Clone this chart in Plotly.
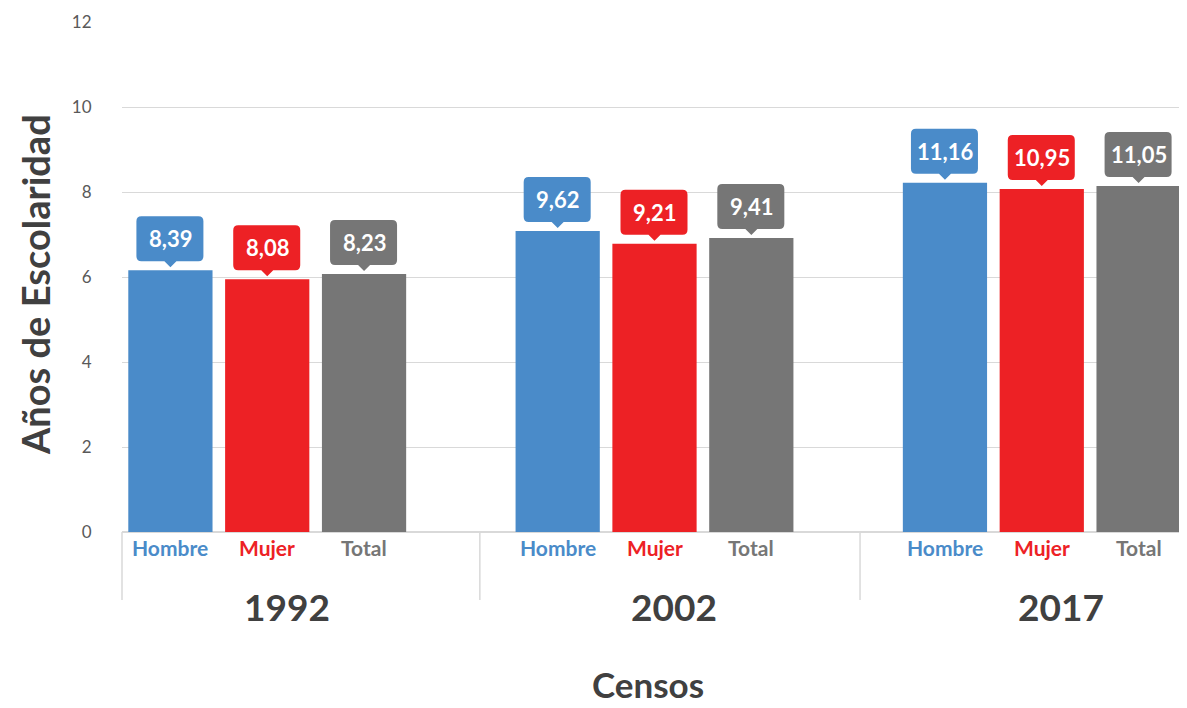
import plotly.graph_objects as go

# Data
censos = ["1992", "2002", "2017"]
series = ["Hombre", "Mujer", "Total"]
# bar heights as drawn (axis units)
hombre_bar = [6.16, 7.08, 8.22]
mujer_bar = [5.95, 6.78, 8.07]
total_bar = [6.07, 6.92, 8.14]
# data label texts shown in the callouts
hombre_lbl = ["8,39", "9,62", "11,16"]
mujer_lbl = ["8,08", "9,21", "10,95"]
total_lbl = ["8,23", "9,41", "11,05"]

colors = {"Hombre": "#4a8bc9", "Mujer": "#ed2125", "Total": "#767676"}
FONT = "Lato"
DARK = "#404040"

bars = {"Hombre": hombre_bar, "Mujer": mujer_bar, "Total": total_bar}
labels = {"Hombre": hombre_lbl, "Mujer": mujer_lbl, "Total": total_lbl}

# each census group takes 3 slots plus one empty slot as a gap
def pos(g, i):
    return g * 4 + i

fig = go.Figure()
shapes = []
annotations = []

for i, s in enumerate(series):
    xs = [pos(g, i) for g in range(len(censos))]
    fig.add_trace(go.Bar(
        x=xs, y=bars[s], name=s, width=0.87,
        marker=dict(color=colors[s], line=dict(width=0)),
        hoverinfo="skip",
    ))
    for g, (x, y) in enumerate(zip(xs, bars[s])):
        # rounded callout box with a small pointer (pixel sized, anchored at bar top)
        L, R, b, t, r = -34, 33, 9, 54, 5
        path = (f"M {L+r},{b} L -6,{b} L 0,3 L 6,{b} L {R-r},{b} "
                f"Q {R},{b} {R},{b+r} L {R},{t-r} Q {R},{t} {R-r},{t} "
                f"L {L+r},{t} Q {L},{t} {L},{t-r} L {L},{b+r} Q {L},{b} {L+r},{b} Z")
        shapes.append(dict(type="path", xref="x", yref="y",
                           xsizemode="pixel", ysizemode="pixel",
                           xanchor=x, yanchor=y, path=path,
                           fillcolor=colors[s], line=dict(width=0), layer="above"))
        annotations.append(dict(x=x, y=y, xref="x", yref="y", yshift=31.5,
                                text=f"<b>{labels[s][g]}</b>", showarrow=False,
                                xanchor="center", yanchor="middle",
                                font=dict(family=FONT, size=22, color="white")))
        # category label under each bar
        annotations.append(dict(x=x, y=0, xref="x", yref="paper", yshift=-15,
                                text=f"<b>{s}</b>", showarrow=False,
                                xanchor="center", yanchor="middle",
                                font=dict(family=FONT, size=21, color=colors[s])))

# census year labels
for g, c in enumerate(censos):
    annotations.append(dict(x=pos(g, 1) + 0.2, y=0, xref="x", yref="paper", yshift=-74,
                            text=f"<b>{c}</b>", showarrow=False,
                            xanchor="center", yanchor="middle",
                            font=dict(family=FONT, size=37, color=DARK)))

# group separators below the axis
for xp in [0.0, 0.336, 0.693]:
    shapes.append(dict(type="line", xref="paper", yref="paper",
                       x0=xp, x1=xp, y0=0, y1=-68 / 510,
                       line=dict(color="#d9d9d9", width=1.5)))

# axis titles
annotations.append(dict(x=0.5, y=0, xref="paper", yref="paper", xshift=-7, yshift=-152,
                        text="<b>Censos</b>", showarrow=False,
                        xanchor="center", yanchor="middle",
                        font=dict(family=FONT, size=35, color=DARK)))
annotations.append(dict(x=0, y=0.5, xref="paper", yref="paper", xshift=-87, yshift=-8,
                        text="<b>Años de Escolaridad</b>", showarrow=False,
                        textangle=-90, xanchor="center", yanchor="middle",
                        font=dict(family=FONT, size=38, color=DARK)))

# the page adds an 8px body margin, so the figure is 8px smaller on each axis
fig.update_layout(
    width=1179, height=700,
    margin=dict(l=114, r=0, t=14, b=176),
    paper_bgcolor="white", plot_bgcolor="white",
    showlegend=False, barmode="overlay",
    shapes=shapes, annotations=annotations,
    xaxis=dict(range=[-0.5, 10.5], showticklabels=False, showgrid=False,
               zeroline=False, showline=False, fixedrange=True),
    yaxis=dict(range=[0, 12], dtick=2, tick0=0, showgrid=True,
               gridcolor="#d9d9d9", gridwidth=1.3,
               zeroline=True, zerolinecolor="#d9d9d9", zerolinewidth=1.5,
               ticks="outside", ticklen=26, tickcolor="rgba(0,0,0,0)",
               tickfont=dict(family=FONT, size=17, color="#595959")),
)

fig.write_html("out.html")
